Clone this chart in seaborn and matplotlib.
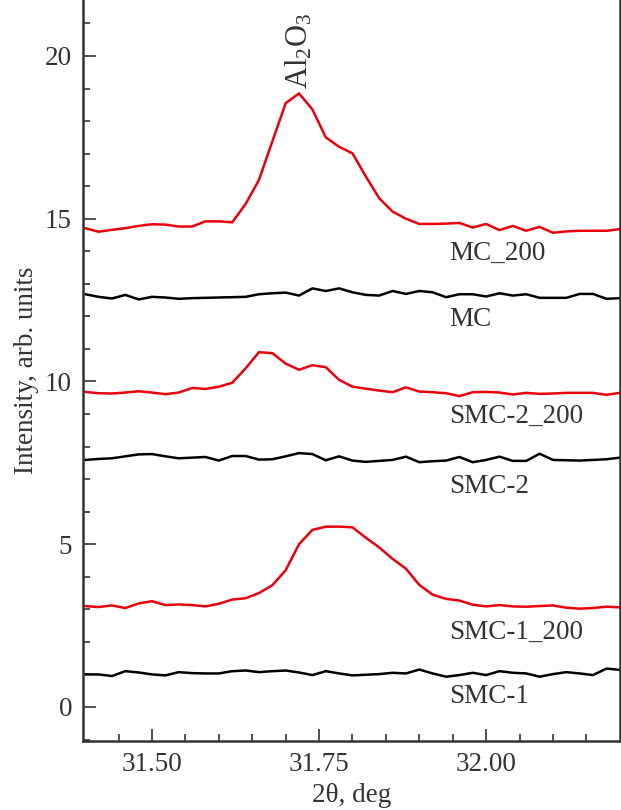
import numpy as np
import pandas as pd
import matplotlib
matplotlib.use('Agg')
import matplotlib.pyplot as plt
import seaborn as sns
from matplotlib.ticker import MultipleLocator, FixedLocator

# 2theta grid, step 0.02 deg
two_theta = np.round(np.arange(31.40, 32.2001, 0.02), 2)

mc_200 = [14.71, 14.60, 14.66, 14.71, 14.78, 14.83, 14.82, 14.76, 14.76, 14.92,
          14.92, 14.89, 15.45, 16.19, 17.37, 18.55, 18.85, 18.36, 17.50, 17.21,
          17.01, 16.30, 15.63, 15.22, 15.00, 14.84, 14.84, 14.85, 14.87, 14.73,
          14.84, 14.65, 14.78, 14.63, 14.75, 14.57, 14.61, 14.63, 14.63, 14.63, 14.68]
mc = [12.68, 12.60, 12.55, 12.66, 12.52, 12.60, 12.58, 12.54, 12.56, 12.57,
      12.58, 12.59, 12.60, 12.68, 12.71, 12.73, 12.64, 12.86, 12.78, 12.86,
      12.74, 12.66, 12.64, 12.78, 12.69, 12.78, 12.74, 12.59, 12.68, 12.68,
      12.61, 12.71, 12.64, 12.68, 12.57, 12.57, 12.57, 12.69, 12.69, 12.54, 12.56]
smc2_200 = [9.68, 9.64, 9.63, 9.66, 9.70, 9.66, 9.61, 9.66, 9.80, 9.77,
            9.84, 9.96, 10.40, 10.90, 10.87, 10.55, 10.36, 10.50, 10.44, 10.05,
            9.84, 9.78, 9.72, 9.67, 9.82, 9.69, 9.67, 9.64, 9.55, 9.67,
            9.68, 9.66, 9.60, 9.65, 9.62, 9.63, 9.65, 9.65, 9.65, 9.59, 9.65]
smc2 = [7.59, 7.62, 7.64, 7.70, 7.76, 7.77, 7.70, 7.64, 7.66, 7.68,
        7.57, 7.71, 7.71, 7.60, 7.61, 7.70, 7.80, 7.77, 7.58, 7.70,
        7.57, 7.53, 7.56, 7.59, 7.69, 7.52, 7.55, 7.57, 7.68, 7.52,
        7.59, 7.69, 7.56, 7.56, 7.78, 7.59, 7.58, 7.57, 7.59, 7.61, 7.66]
smc1_200 = [3.10, 3.07, 3.12, 3.04, 3.18, 3.25, 3.13, 3.15, 3.13, 3.09,
            3.17, 3.30, 3.34, 3.50, 3.74, 4.20, 5.00, 5.44, 5.54, 5.54,
            5.52, 5.20, 4.90, 4.55, 4.25, 3.75, 3.45, 3.32, 3.27, 3.14,
            3.09, 3.13, 3.09, 3.08, 3.10, 3.12, 3.05, 3.02, 3.04, 3.08, 3.06]
smc1 = [1.00, 1.00, 0.95, 1.10, 1.06, 1.00, 0.97, 1.07, 1.04, 1.03,
        1.03, 1.10, 1.12, 1.07, 1.10, 1.12, 1.06, 0.98, 1.10, 1.03,
        0.97, 0.99, 1.01, 1.05, 1.03, 1.15, 1.03, 0.93, 0.98, 1.05,
        0.98, 1.10, 1.05, 1.03, 0.93, 1.01, 1.07, 1.03, 0.98, 1.18, 1.14]

series_names = ['MC_200', 'MC', 'SMC-2_200', 'SMC-2', 'SMC-1_200', 'SMC-1']
series_values = [mc_200, mc, smc2_200, smc2, smc1_200, smc1]
series_colors = ['#e8000b', 'black', '#e8000b', 'black', '#e8000b', 'black']
label_y = [13.95, 11.89, 8.94, 6.76, 2.30, 0.31]

sns.set_style('ticks')
plt.rcParams['font.family'] = ['Liberation Serif', 'DejaVu Serif']
plt.rcParams['mathtext.fontset'] = 'custom'
plt.rcParams['mathtext.rm'] = 'Liberation Serif'
text_col = '#333333'
fs = 19.5

fig = plt.figure(figsize=(6.21, 8.10), dpi=100)
ax = fig.add_axes([0.134, 0.085, 0.864, 0.915])

for name, vals, col in zip(series_names, series_values, series_colors):
    sns.lineplot(x=two_theta, y=vals, color=col, linewidth=1.8, ax=ax)

for name, ly in zip(series_names, label_y):
    ax.text(31.945, ly, name, fontsize=fs, color=text_col, va='center', ha='left')

ax.text(31.72, 19.0, r'$\mathrm{Al_2O_3}$', rotation=90, fontsize=22, color=text_col,
        ha='center', va='bottom')

ax.set_xlim(31.397, 32.20)
ax.set_ylim(-1.05, 21.72)
ax.set_xticks([31.50, 31.75, 32.00])
ax.set_xticklabels(['31.50', '31.75', '32.00'])
ax.xaxis.set_minor_locator(FixedLocator(np.round(np.arange(31.45, 32.19, 0.05), 2)))
ax.yaxis.set_major_locator(MultipleLocator(5))
ax.yaxis.set_minor_locator(MultipleLocator(1))
ax.tick_params(which='both', direction='in', colors=text_col, labelsize=fs,
               labelcolor=text_col, width=1.2)
ax.tick_params(which='major', length=9, pad=8)
ax.tick_params(which='minor', length=5)

ax.spines['top'].set_visible(False)
for s in ['left', 'bottom', 'right']:
    ax.spines[s].set_color(text_col)
    ax.spines[s].set_linewidth(1.8)

ax.set_xlabel('2θ, deg', fontsize=fs, color=text_col, labelpad=4)
ax.set_ylabel('Intensity, arb. units', fontsize=fs, color=text_col, labelpad=4)

fig.savefig('out.png', dpi=100)
